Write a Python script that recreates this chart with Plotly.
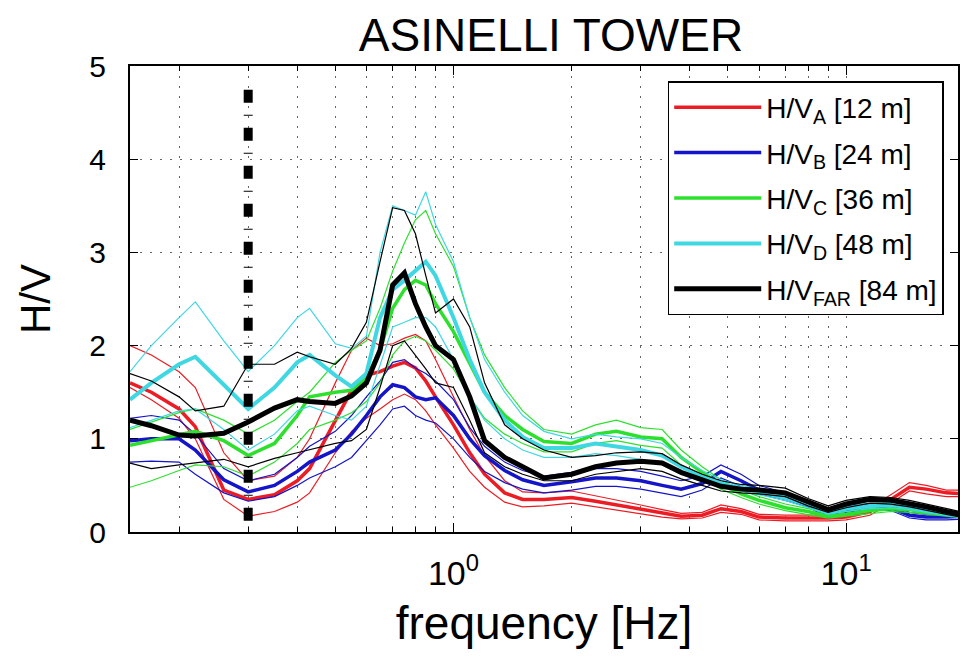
import math
import plotly.graph_objects as go

FREQ = [0.15, 0.17, 0.2, 0.22, 0.26, 0.3, 0.35, 0.4, 0.43, 0.5, 0.55, 0.6, 0.65, 0.7, 0.75,
        0.8, 0.85, 0.9, 1.0, 1.1, 1.2, 1.35, 1.5, 1.7, 2.0, 2.3, 2.6, 3.0, 3.4, 3.8, 4.3,
        4.8, 5.4, 6.0, 7.0, 8.0, 9.0, 10, 11.5, 13, 14.5, 16, 18, 20]

# H/V_A [12 m]  (red)
A_MEAN = [1.60, 1.50, 1.32, 1.13, 0.45, 0.35, 0.40, 0.55, 0.68, 1.20, 1.52, 1.68, 1.72, 1.78, 1.82,
          1.76, 1.62, 1.45, 1.15, 0.85, 0.62, 0.42, 0.35, 0.35, 0.37, 0.33, 0.29, 0.25, 0.21, 0.17, 0.18,
          0.25, 0.22, 0.16, 0.15, 0.15, 0.15, 0.16, 0.22, 0.35, 0.48, 0.46, 0.42, 0.41]
A_UP = [2.00, 1.90, 1.72, 1.55, 0.85, 0.55, 0.60, 0.80, 1.00, 1.60, 1.95, 2.08, 2.00, 2.02, 2.08,
        2.12, 2.05, 1.85, 1.45, 1.10, 0.82, 0.55, 0.43, 0.42, 0.44, 0.39, 0.34, 0.29, 0.24, 0.20, 0.21,
        0.29, 0.25, 0.19, 0.18, 0.18, 0.18, 0.19, 0.26, 0.40, 0.53, 0.50, 0.45, 0.45]
A_LOW = [1.55, 1.42, 1.22, 1.00, 0.35, 0.17, 0.22, 0.32, 0.42, 0.85, 1.08, 1.22, 1.32, 1.42, 1.48,
         1.42, 1.30, 1.15, 0.90, 0.65, 0.48, 0.32, 0.27, 0.28, 0.31, 0.27, 0.23, 0.19, 0.16, 0.14, 0.15,
         0.21, 0.19, 0.13, 0.12, 0.12, 0.12, 0.13, 0.18, 0.31, 0.44, 0.41, 0.38, 0.38]

# H/V_B [24 m]  (blue)
B_MEAN = [0.98, 1.00, 1.00, 0.88, 0.56, 0.43, 0.50, 0.65, 0.75, 0.88, 1.05, 1.25, 1.45, 1.58, 1.55,
          1.45, 1.42, 1.44, 1.25, 1.00, 0.82, 0.66, 0.56, 0.50, 0.54, 0.58, 0.58, 0.55, 0.50, 0.46, 0.52,
          0.65, 0.55, 0.45, 0.38, 0.30, 0.18, 0.24, 0.27, 0.26, 0.18, 0.16, 0.16, 0.17]
B_UP = [1.22, 1.25, 1.20, 1.05, 0.68, 0.55, 0.62, 0.80, 0.92, 1.08, 1.25, 1.45, 1.62, 1.82, 1.85,
        1.76, 1.70, 1.62, 1.42, 1.12, 0.92, 0.75, 0.66, 0.60, 0.64, 0.68, 0.68, 0.65, 0.60, 0.55, 0.60,
        0.72, 0.62, 0.50, 0.42, 0.33, 0.21, 0.27, 0.30, 0.29, 0.21, 0.19, 0.19, 0.20]
B_LOW = [0.75, 0.76, 0.75, 0.62, 0.42, 0.33, 0.38, 0.50, 0.58, 0.70, 0.80, 0.98, 1.15, 1.32, 1.35,
         1.25, 1.20, 1.17, 1.00, 0.80, 0.65, 0.53, 0.46, 0.42, 0.45, 0.49, 0.49, 0.46, 0.42, 0.38, 0.45,
         0.58, 0.49, 0.41, 0.34, 0.27, 0.15, 0.21, 0.24, 0.23, 0.15, 0.13, 0.13, 0.14]

# H/V_C [36 m]  (green)
C_MEAN = [0.93, 0.98, 1.05, 1.08, 0.98, 0.82, 0.95, 1.25, 1.45, 1.50, 1.52, 1.65, 1.95, 2.40, 2.60,
          2.70, 2.65, 2.45, 2.15, 1.80, 1.50, 1.25, 1.10, 0.97, 0.95, 1.05, 1.08, 1.02, 1.00, 0.80, 0.64,
          0.51, 0.41, 0.34, 0.26, 0.22, 0.17, 0.19, 0.23, 0.25, 0.24, 0.21, 0.19, 0.17]
C_UP = [1.10, 1.18, 1.28, 1.32, 1.20, 1.05, 1.20, 1.40, 1.50, 1.82, 1.95, 2.05, 2.40, 2.80, 3.10,
        3.35, 3.45, 3.20, 2.85, 2.30, 1.90, 1.55, 1.30, 1.10, 1.05, 1.15, 1.20, 1.12, 1.10, 0.88, 0.70,
        0.56, 0.45, 0.38, 0.30, 0.25, 0.20, 0.22, 0.26, 0.28, 0.27, 0.24, 0.21, 0.19]
C_LOW = [0.48, 0.55, 0.66, 0.72, 0.70, 0.60, 0.75, 0.95, 1.10, 1.20, 1.28, 1.40, 1.60, 1.90, 2.05,
         2.10, 2.05, 1.95, 1.75, 1.45, 1.22, 1.05, 0.95, 0.86, 0.86, 0.95, 0.98, 0.93, 0.90, 0.72, 0.58,
         0.46, 0.37, 0.30, 0.23, 0.19, 0.15, 0.17, 0.20, 0.22, 0.21, 0.19, 0.17, 0.15]

# H/V_D [48 m]  (cyan)
D_MEAN = [1.42, 1.60, 1.80, 1.88, 1.58, 1.32, 1.55, 1.82, 1.90, 1.68, 1.56, 1.70, 2.30, 2.60, 2.70,
          2.80, 2.90, 2.75, 2.30, 1.85, 1.50, 1.20, 1.02, 0.90, 0.90, 0.95, 0.92, 0.88, 0.82, 0.70, 0.60,
          0.52, 0.47, 0.43, 0.37, 0.29, 0.21, 0.25, 0.28, 0.29, 0.27, 0.23, 0.20, 0.17]
D_UP = [1.72, 2.00, 2.30, 2.47, 2.05, 1.72, 2.00, 2.30, 2.40, 2.02, 1.97, 2.10, 3.00, 3.50, 3.45,
        3.40, 3.65, 3.30, 2.90, 2.30, 1.85, 1.50, 1.25, 1.08, 1.00, 1.05, 1.02, 1.00, 0.95, 0.80, 0.66,
        0.56, 0.50, 0.46, 0.40, 0.32, 0.24, 0.28, 0.31, 0.32, 0.30, 0.26, 0.22, 0.19]
D_LOW = [1.12, 1.20, 1.30, 1.32, 1.10, 0.88, 1.05, 1.30, 1.35, 1.25, 1.20, 1.35, 1.80, 2.20, 2.25,
         2.30, 2.30, 2.20, 1.85, 1.45, 1.20, 1.00, 0.88, 0.80, 0.80, 0.84, 0.82, 0.78, 0.72, 0.62, 0.54,
         0.48, 0.44, 0.40, 0.34, 0.26, 0.19, 0.22, 0.25, 0.26, 0.24, 0.21, 0.18, 0.15]

# H/V_FAR [84 m]  (black)
F_MEAN = [1.20, 1.14, 1.04, 1.03, 1.06, 1.18, 1.33, 1.42, 1.40, 1.38, 1.46, 1.60, 1.95, 2.65, 2.78,
          2.45, 2.20, 2.00, 1.85, 1.45, 0.98, 0.80, 0.70, 0.58, 0.62, 0.70, 0.74, 0.76, 0.74, 0.64, 0.56,
          0.49, 0.46, 0.45, 0.42, 0.32, 0.24, 0.30, 0.35, 0.34, 0.31, 0.27, 0.22, 0.18]
F_UP = [1.70, 1.62, 1.45, 1.30, 1.35, 1.80, 1.80, 1.93, 1.88, 1.80, 1.97, 2.25, 2.90, 3.48, 3.45,
        3.20, 2.75, 2.35, 2.50, 2.20, 1.60, 1.15, 1.00, 0.88, 0.80, 0.82, 0.85, 0.86, 0.84, 0.72, 0.62,
        0.55, 0.51, 0.50, 0.47, 0.36, 0.28, 0.34, 0.38, 0.37, 0.34, 0.30, 0.25, 0.21]
F_LOW = [0.74, 0.68, 0.72, 0.74, 0.78, 0.70, 0.79, 0.85, 0.88, 0.95, 0.98, 1.10, 1.55, 2.00, 2.05,
         1.90, 1.75, 1.60, 1.55, 1.20, 0.85, 0.70, 0.62, 0.55, 0.55, 0.62, 0.65, 0.68, 0.65, 0.57, 0.50,
         0.44, 0.42, 0.41, 0.38, 0.28, 0.21, 0.26, 0.31, 0.30, 0.27, 0.23, 0.19, 0.15]

NAMES = ["H/V<sub>A</sub> [12 m]", "H/V<sub>B</sub> [24 m]", "H/V<sub>C</sub> [36 m]",
         "H/V<sub>D</sub> [48 m]", "H/V<sub>FAR</sub> [84 m]"]
COLORS = ["#ec1c24", "#1414c8", "#2ee02e", "#3fd8e2", "#000000"]
MEANS = [A_MEAN, B_MEAN, C_MEAN, D_MEAN, F_MEAN]
UPS = [A_UP, B_UP, C_UP, D_UP, F_UP]
LOWS = [A_LOW, B_LOW, C_LOW, D_LOW, F_LOW]
MEAN_WIDTHS = [3.5, 3.5, 3.5, 4, 5]

REF_FREQ = 0.3          # vertical dash-dot marker
REF_SPAN = [0.12, 4.78]

MAJOR_X = [1, 10]
MAJOR_X_TEXT = ["10<sup>0</sup>", "10<sup>1</sup>"]
MINOR_X = [0.2, 0.3, 0.4, 0.5, 0.6, 0.7, 0.8, 0.9, 2, 3, 4, 5, 6, 7, 8, 9]

fig = go.Figure()
for name, color, mean, up, low, w in zip(NAMES, COLORS, MEANS, UPS, LOWS, MEAN_WIDTHS):
    for ys in (up, low):
        fig.add_trace(go.Scatter(x=FREQ, y=ys, mode="lines", legendgroup=name, showlegend=False,
                                 line=dict(color=color, width=1.2), hoverinfo="skip"))
    fig.add_trace(go.Scatter(x=FREQ, y=mean, mode="lines", name=name, legendgroup=name,
                             line=dict(color=color, width=w)))

fig.add_trace(go.Scatter(x=[REF_FREQ, REF_FREQ], y=REF_SPAN, mode="lines", showlegend=False,
                         line=dict(color="black", width=9, dash="13px,12px,1px,12px"),
                         hoverinfo="skip"))

GRID = dict(showgrid=True, gridcolor="#666666", griddash="2px,8px", gridwidth=1)

fig.update_layout(
    width=962, height=657,
    margin=dict(l=130, r=2, t=66, b=125),
    paper_bgcolor="white", plot_bgcolor="white",
    font=dict(family="Liberation Sans, Arial, sans-serif", color="black"),
    title=dict(text="ASINELLI TOWER", xref="container", x=551 / 962, xanchor="center",
               yref="container", y=1 - 35 / 657, yanchor="middle",
               font=dict(size=46, color="black")),
    legend=dict(x=(669 - 130) / 830, y=(532 - 81) / 466, xanchor="left", yanchor="top",
                bgcolor="white", bordercolor="black", borderwidth=1.5,
                font=dict(size=28, color="black"), traceorder="grouped",
                tracegroupgap=6, itemwidth=87),
    showlegend=True,
)

fig.update_xaxes(
    type="log", range=[math.log10(0.15), 1.285],
    tickmode="array", tickvals=MAJOR_X, ticktext=MAJOR_X_TEXT,
    ticks="inside", ticklen=9, tickwidth=1.2, tickcolor="black",
    showline=True, linecolor="black", linewidth=2, mirror="ticks",
    tickfont=dict(size=34), ticklabelstandoff=10, zeroline=False,
    minor=dict(tickmode="array", tickvals=MINOR_X, ticks="inside", ticklen=5, tickcolor="black",
               tickwidth=1, **GRID),
    title=dict(text="frequency [Hz]", font=dict(size=46), standoff=16),
    **GRID,
)
fig.update_yaxes(
    range=[0, 5], tickmode="array", tickvals=[0, 1, 2, 3, 4, 5],
    ticks="inside", ticklen=8, tickwidth=1.2, tickcolor="black",
    showline=True, linecolor="black", linewidth=2, mirror="ticks",
    tickfont=dict(size=30), ticklabelstandoff=16, zeroline=False,
    title=dict(text="H/V", font=dict(size=42), standoff=26),
    **GRID,
)

fig.write_html("out.html")
